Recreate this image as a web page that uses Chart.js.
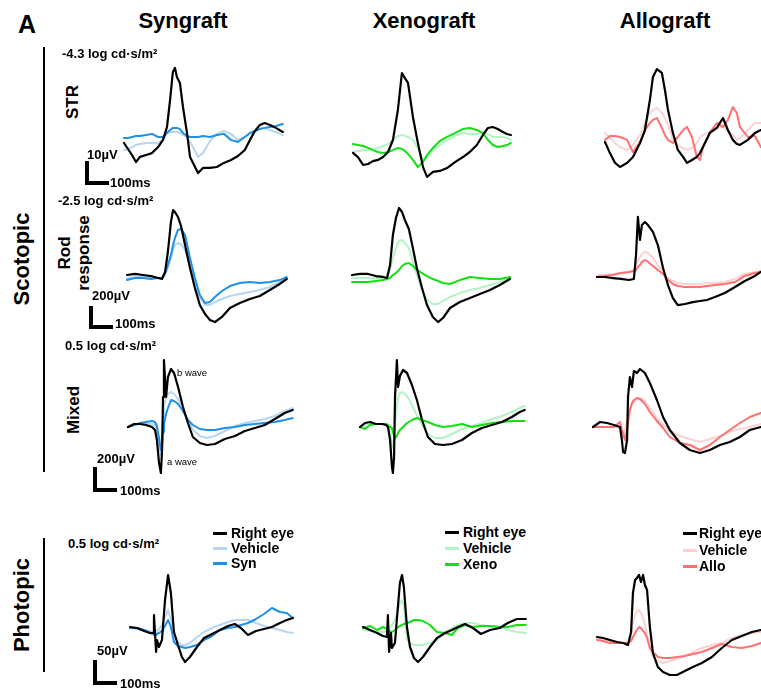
<!DOCTYPE html>
<html>
<head>
<meta charset="utf-8">
<script src="https://cdn.jsdelivr.net/npm/chart.js@4.4.1/dist/chart.umd.min.js"></script>
<style>
    body { margin: 0; background: #fff; width: 761px; height: 689px; position: relative; overflow: hidden;
           font-family: Arial, "Liberation Sans", sans-serif; color: #000; }
    .lbl { position: absolute; white-space: nowrap; line-height: 1; }
    .bar { position: absolute; background: #000; }
    canvas { position: absolute; }
</style>
</head>
<body>
<script>
// ---- data: time (ms from trace start) and amplitude (µV from baseline) ----
// STR, -4.3 log cd·s/m²
const synStrT = [0, 17, 34, 51, 68, 94, 119, 145, 166, 183, 196, 208, 217, 225, 238, 251, 268, 281, 298, 315, 336, 366, 395, 425, 455, 485, 514, 536, 557, 578, 599, 621, 646, 676];
const synStrRight = [0, -2.5, -5, -7.9, -5.8, -5, -4.2, -1.7, 1.3, 6.7, 17.9, 29.6, 31.3, 27.5, 25, 15, 4.2, -5.8, -9.2, -12.5, -10.4, -10.4, -10, -8.3, -7.1, -5.4, -2.9, 1.3, 5, 7.5, 8.3, 7.5, 6.3, 4.6];
const synStrVeh = [-2.9, -2.5, -1.7, -0.8, -0.4, 0, 0, 0, 1.3, 4.2, 4.6, 4.6, 4.6, 4.6, 4.2, 3.3, 2.5, 0.4, -2.5, -5.8, -4.2, 0.8, 3.8, 5, 3.8, 1.3, 2.5, 3.8, 5, 5.8, 6.3, 5.4, 4.6, 3.3];
const synStrTx = [2.1, 2.1, 2.5, 2.9, 2.9, 3.3, 3.8, 2.5, 2.5, 4.2, 5.4, 6.3, 6.3, 6.3, 5.8, 4.2, 2.9, 2.5, 2.5, 2.5, 2.9, 2.5, 3.3, 3.8, 1.3, 0.4, 2.5, 4.2, 5, 5.8, 6.3, 6.7, 7.1, 7.9];

const xenoStrT = [0, 21, 43, 64, 85, 106, 128, 149, 170, 191, 208, 221, 234, 255, 276, 298, 315, 340, 370, 400, 434, 468, 497, 527, 553, 574, 595, 616, 638, 655, 672];
const xenoStrRight = [-0.4, -2.1, -5.4, -5, -3.8, -3.3, -2.1, 0, 5, 17.5, 32.9, 30.8, 28.8, 14.6, 3.8, -6.3, -10.4, -8.3, -7.9, -6.7, -4.2, -2.1, 0, 2.9, 7.1, 10, 10.4, 9.6, 8.3, 7.5, 7.1];
const xenoStrVeh = [0, 0.4, 0.8, 0.8, 1.3, 1.7, 2.5, 3.3, 5, 6.7, 7.1, 6.7, 6.3, 5, 1.7, -3.3, -2.5, 0.8, 2.9, 5, 6.7, 7.9, 7.5, 7.5, 8.3, 7.5, 6.3, 6.3, 6.3, 5.8, 5];
const xenoStrTx = [3.3, 2.9, 2.5, 1.7, 0.8, 0, -0.4, 0, 0.8, 1.7, 1.3, 0.4, -0.8, -3.3, -6.3, -4.2, -1.3, 1.7, 4.6, 6.3, 7.9, 9.6, 10, 9.2, 7.9, 5, 2.9, 2.1, 2.5, 2.9, 3.8];

const alloStrT = [0, 21, 43, 64, 94, 119, 149, 170, 191, 204, 221, 242, 255, 268, 289, 310, 332, 349, 370, 391, 404, 417, 446, 476, 502, 523, 544, 561, 574, 608, 638, 663];
const alloStrRight = [0.4, -4.2, -8.3, -10, -8.3, -5.8, 0, 5.4, 17.9, 27.5, 30.8, 29.2, 22.1, 13.8, 4.2, -2.9, -5.8, -8.3, -7.1, -5.8, -4.2, -1.7, 4.2, 6.3, 10.4, 5.4, 1.3, -0.4, -0.8, 1.3, 4.2, 5.4];
const alloStrVeh = [4.2, 2.1, 0, -1.7, -2.9, -0.8, 3.3, 8.3, 12.5, 13.8, 14.6, 12.5, 10.4, 7.5, 1.3, -0.8, -2.1, -2.9, -2.1, 0, 2.5, 3.3, 4.6, 6.3, 6.7, 5, 3.3, 1.3, 2.1, 5.4, 8.3, 8.3];
const alloStrTx = [1.3, 2.9, 2.9, 2.5, 1.3, -3.8, 0.4, 5.4, 8.3, 9.6, 10.4, 6.3, 3.3, 1.3, 0, 2.5, 5.4, 6.7, 2.5, -5.8, -7.1, -1.7, 4.2, 8.3, 6.7, 9.6, 15, 12.5, 6.7, 2.5, 2.9, -1.7];

// Rod response, -2.5 log cd·s/m²
const synRodT = [0, 34, 68, 102, 132, 149, 162, 174, 187, 196, 204, 217, 230, 247, 268, 289, 310, 332, 353, 374, 404, 438, 480, 523, 565, 608, 650, 680];
const synRodRight = [0, 9, 0, -9, -26, -35, 26, 200, 461, 565, 548, 504, 426, 261, 61, -113, -261, -339, -392, -409, -365, -287, -244, -209, -183, -131, -78, -35];
const synRodVeh = [-26, -17, -17, -26, -26, -26, 0, 61, 148, 218, 261, 278, 270, 218, 87, -70, -200, -261, -261, -235, -209, -183, -165, -148, -131, -104, -61, -26];
const synRodTx = [-44, -26, -26, -35, -26, -26, 17, 87, 174, 261, 322, 392, 400, 348, 148, -26, -174, -244, -235, -192, -139, -96, -70, -61, -70, -61, -44, -17];

const xenoRodT = [0, 34, 68, 102, 132, 149, 162, 174, 187, 200, 213, 225, 242, 259, 276, 298, 319, 344, 366, 387, 417, 459, 502, 544, 587, 629, 672];
const xenoRodRight = [0, 9, 9, -9, -17, -26, 87, 348, 496, 583, 548, 478, 400, 235, 61, -113, -261, -365, -409, -374, -287, -235, -200, -165, -131, -87, -35];
const xenoRodVeh = [-26, -26, -26, -26, -26, -26, 44, 148, 235, 296, 304, 278, 235, 113, 0, -131, -218, -252, -252, -226, -191, -157, -131, -113, -87, -61, -17];
const xenoRodTx = [-61, -61, -61, -52, -44, -35, -26, 0, 17, 44, 78, 96, 104, 78, 44, 17, -9, -35, -52, -70, -78, -44, -17, -26, -35, -35, -17];

const alloRodT = [0, 34, 68, 102, 136, 157, 166, 174, 183, 191, 204, 217, 238, 259, 281, 302, 323, 344, 374, 408, 438, 468, 502, 544, 587, 629, 672, 697];
const alloRodRight = [0, 0, -9, -17, -26, -17, 191, 522, 322, 452, 478, 452, 392, 278, 78, -70, -183, -244, -235, -218, -209, -200, -174, -139, -87, -35, 9, 44];
const alloRodVeh = [17, 17, 26, 35, 44, 61, 96, 139, 174, 200, 218, 209, 165, 104, 44, -9, -35, -52, -61, -61, -61, -52, -52, -44, -17, 26, 44, 52];
const alloRodTx = [0, 9, 17, 35, 44, 52, 61, 87, 104, 131, 148, 131, 96, 61, 26, -26, -61, -78, -87, -87, -87, -78, -70, -61, -44, 9, 35, 44];

// Mixed, 0.5 log cd·s/m²
const synMixT = [0, 26, 51, 77, 102, 115, 123, 132, 140, 145, 149, 153, 162, 170, 183, 196, 213, 234, 255, 276, 306, 336, 370, 412, 455, 497, 540, 582, 625, 667, 701];
const synMixRight = [-16, 8, 8, 0, -16, -40, -120, -304, -384, -200, 224, 520, 224, 384, 448, 416, 304, 144, 16, -96, -144, -160, -152, -112, -88, -48, -24, 0, 48, 96, 120];
const synMixVeh = [-16, 0, 8, 8, 8, 0, -40, -160, -240, -120, 40, 160, 216, 248, 264, 248, 208, 120, 40, -40, -88, -104, -88, -48, -8, 16, 32, 48, 72, 112, 136];
const synMixTx = [-16, 0, 16, 24, 32, 24, -8, -104, -200, -160, -56, 8, 88, 136, 200, 192, 168, 112, 40, 0, -32, -40, -40, -24, -16, 0, 8, 16, 24, 40, 56];

const xenoMixT = [0, 21, 43, 68, 94, 111, 119, 128, 136, 140, 145, 149, 157, 162, 170, 183, 200, 221, 242, 264, 289, 319, 353, 391, 434, 476, 519, 561, 604, 646, 680, 701];
const xenoMixRight = [-16, 16, 24, 8, 8, 0, -16, -120, -336, -384, -256, 224, 520, 304, 392, 440, 416, 320, 200, 40, -96, -152, -160, -152, -120, -64, -24, 0, 24, 64, 104, 120];
const xenoMixVeh = [-16, 0, 8, 8, 8, 8, -8, -56, -160, -184, -120, 0, 160, 224, 256, 264, 232, 160, 80, 0, -72, -104, -104, -72, -32, -8, 16, 48, 72, 104, 136, 152];
const xenoMixTx = [-16, -32, 0, 8, 8, 8, 0, -16, -24, -56, -88, -104, -88, -64, -40, -16, 16, 40, 56, 40, 24, 0, -16, -8, 8, -16, 0, 16, 24, 32, 32, 32];

const alloMixT = [0, 30, 60, 89, 115, 123, 128, 136, 145, 149, 157, 166, 174, 187, 200, 221, 242, 272, 298, 327, 370, 412, 455, 497, 540, 582, 625, 667, 714];
const alloMixRight = [0, 40, 32, 16, 0, -104, -200, -208, -104, 240, 400, 320, 448, 432, 464, 432, 352, 216, 80, -24, -128, -184, -208, -184, -144, -120, -80, -24, 0];
const alloMixVeh = [0, 0, 0, 0, -8, -48, -80, -24, 56, 80, 136, 176, 200, 216, 232, 208, 152, 72, 16, -32, -72, -96, -120, -96, -72, -40, -16, 0, 24];
const alloMixTx = [0, 0, 0, 0, 40, -24, -48, -104, -24, 32, 136, 192, 216, 232, 224, 184, 120, 48, -8, -80, -128, -144, -184, -144, -80, -24, 32, 80, 112];

// Photopic, 0.5 log cd·s/m²
const synPhoT = [0, 30, 60, 85, 98, 102, 111, 115, 123, 136, 149, 162, 174, 187, 204, 221, 234, 255, 285, 315, 349, 383, 417, 446, 472, 502, 536, 570, 604, 638, 667, 693];
const synPhoRight = [0, -2, -8, -12, -12, 24, -50, -26, -40, -26, 54, 104, 68, -10, -36, -60, -70, -60, -40, -22, -14, -6, 2, 6, -2, -16, -8, -4, 0, 8, 14, 18];
const synPhoVeh = [-2, -4, -6, -8, -10, -10, -10, -8, -4, 4, 20, 34, 14, -14, -30, -36, -36, -32, -20, -10, -2, 4, 10, 14, 14, 14, 8, 2, -2, -6, -10, -12];
const synPhoTx = [-2, -2, -6, -12, -14, -16, -16, -14, -12, -8, 2, 14, 0, -30, -38, -40, -42, -40, -36, -26, -18, -6, -2, 0, 4, 8, 16, 26, 38, 30, 28, 18];

const xenoPhoT = [0, 30, 60, 85, 102, 106, 111, 119, 123, 136, 145, 157, 166, 174, 187, 200, 217, 234, 255, 285, 315, 349, 378, 404, 434, 468, 502, 540, 582, 616, 655, 693];
const xenoPhoRight = [0, -6, -12, -18, -20, 24, -50, -12, -42, -32, 20, 88, 104, 80, 0, -40, -62, -70, -60, -40, -22, -12, -6, 0, 6, -2, -14, -6, -2, 8, 16, 16];
const xenoPhoVeh = [-6, -8, -10, -10, -8, -6, -4, 2, 4, 14, 28, 48, 54, 42, -26, -32, -36, -36, -36, -32, -26, -10, -2, 4, 8, 8, 4, 2, 0, -6, -10, -12];
const xenoPhoTx = [-2, 2, -6, 0, -4, -6, -8, -10, -10, -6, -2, 2, 4, 6, 8, 10, 14, 14, 12, 4, -10, -12, -16, -2, 4, 0, 2, 2, 0, 0, 4, 4];

const alloPhoT = [0, 26, 55, 85, 111, 132, 145, 153, 162, 170, 179, 187, 196, 204, 213, 225, 238, 259, 281, 310, 340, 374, 408, 446, 489, 531, 574, 616, 659, 697];
const alloPhoRight = [0, -2, -6, -10, -12, -16, 10, 88, 114, 118, 124, 110, 124, 104, 94, 20, -32, -60, -70, -76, -76, -68, -60, -52, -40, -22, -6, 2, 10, 14];
const alloPhoVeh = [-2, -4, -8, -10, -12, -10, 4, 28, 44, 52, 54, 48, 40, 24, 4, -20, -40, -48, -52, -48, -44, -38, -30, -22, -16, -12, -2, 4, 8, 10];
const alloPhoTx = [-6, -8, -12, -12, -12, -12, -8, 0, 8, 14, 20, 18, 12, 8, -2, -22, -30, -40, -42, -42, -40, -38, -34, -30, -22, -14, -20, -22, -18, -12];

const groups = ["Syngraft", "Xenograft", "Allograft"];
const treatNames = ["Syn", "Xeno", "Allo"];
const seriesNames = ["Right eye", "Vehicle"];
const intensities = ["-4.3 log cd·s/m²", "-2.5 log cd·s/m²", "0.5 log cd·s/m²", "0.5 log cd·s/m²"];
const scaleUv = [10, 200, 200, 50];

// ---- layout ----
const pxPerMs = 0.235;
const rows = [
    { top: 50, h: 140, pxPerUv: 2.4 },
    { top: 195, h: 140, pxPerUv: 0.115 },
    { top: 345, h: 140, pxPerUv: 0.125 },
    { top: 565, h: 120, pxPerUv: 0.5 }
];
const colColors = [
    { veh: "#b7d6f2", tx: "#1e90e8" },
    { veh: "#b4f3c6", tx: "#12e012" },
    { veh: "#ffd2d2", tx: "#ff7070" }
];

const panels = [
    { row: 0, col: 0, x0: 124, y0: 143, t: synStrT, right: synStrRight, veh: synStrVeh, tx: synStrTx },
    { row: 0, col: 1, x0: 353, y0: 152, t: xenoStrT, right: xenoStrRight, veh: xenoStrVeh, tx: xenoStrTx },
    { row: 0, col: 2, x0: 605, y0: 143, t: alloStrT, right: alloStrRight, veh: alloStrVeh, tx: alloStrTx },
    { row: 1, col: 0, x0: 127, y0: 275, t: synRodT, right: synRodRight, veh: synRodVeh, tx: synRodTx },
    { row: 1, col: 1, x0: 352, y0: 275, t: xenoRodT, right: xenoRodRight, veh: xenoRodVeh, tx: xenoRodTx },
    { row: 1, col: 2, x0: 597, y0: 277, t: alloRodT, right: alloRodRight, veh: alloRodVeh, tx: alloRodTx },
    { row: 2, col: 0, x0: 128, y0: 425, t: synMixT, right: synMixRight, veh: synMixVeh, tx: synMixTx },
    { row: 2, col: 1, x0: 360, y0: 425, t: xenoMixT, right: xenoMixRight, veh: xenoMixVeh, tx: xenoMixTx },
    { row: 2, col: 2, x0: 593, y0: 427, t: alloMixT, right: alloMixRight, veh: alloMixVeh, tx: alloMixTx },
    { row: 3, col: 0, x0: 130, y0: 627, t: synPhoT, right: synPhoRight, veh: synPhoVeh, tx: synPhoTx },
    { row: 3, col: 1, x0: 363, y0: 627, t: xenoPhoT, right: xenoPhoRight, veh: xenoPhoVeh, tx: xenoPhoTx },
    { row: 3, col: 2, x0: 597, y0: 637, t: alloPhoT, right: alloPhoRight, veh: alloPhoVeh, tx: alloPhoTx }
];

function addText( txt, x, y, size, opts ) {
    opts = opts || {};
    const el = document.createElement( "div" );
    el.className = "lbl";
    el.textContent = txt;
    el.style.fontSize = size + "px";
    el.style.left = x + "px";
    el.style.top = y + "px";
    el.style.fontWeight = opts.normal ? "normal" : "bold";
    let tf = opts.center ? "translate(-50%,-50%)" : "translateY(-50%)";
    if ( opts.rotate ) tf += " rotate(-90deg)";
    el.style.transform = tf;
    document.body.appendChild( el );
}

function addBox( x, y, w, h, color ) {
    const el = document.createElement( "div" );
    el.className = "bar";
    el.style.left = x + "px";
    el.style.top = y + "px";
    el.style.width = w + "px";
    el.style.height = h + "px";
    if ( color ) el.style.background = color;
    document.body.appendChild( el );
}

function toPoints( t, v ) {
    return t.map( ( x, i ) => ( { x: x, y: v[i] } ) );
}

// Traces
const padL = 8, canvasW = 182;
panels.forEach( p => {
    const r = rows[p.row];
    const c = colColors[p.col];
    const cv = document.createElement( "canvas" );
    cv.width = canvasW;
    cv.height = r.h;
    cv.style.left = ( p.x0 - padL ) + "px";
    cv.style.top = r.top + "px";
    document.body.appendChild( cv );

    const line = ( data, color, w ) => ( {
        data: data, borderColor: color, borderWidth: w, pointRadius: 0,
        fill: false, tension: 0, clip: false, borderJoinStyle: "round", borderCapStyle: "round"
    } );

    new Chart( cv.getContext( "2d" ), {
        type: "line",
        data: {
            datasets: [
                line( toPoints( p.t, p.right ), "#000000", 2.2 ),
                line( toPoints( p.t, p.tx ), c.tx, 2 ),
                line( toPoints( p.t, p.veh ), c.veh, 2 )
            ]
        },
        options: {
            responsive: false,
            animation: false,
            devicePixelRatio: 1,
            events: [],
            layout: { padding: 0 },
            plugins: { legend: { display: false }, tooltip: { enabled: false } },
            scales: {
                x: { type: "linear", display: false, min: -padL / pxPerMs, max: ( canvasW - padL ) / pxPerMs },
                y: { type: "linear", display: false,
                     min: -( r.top + r.h - p.y0 ) / r.pxPerUv, max: ( p.y0 - r.top ) / r.pxPerUv }
            }
        }
    } );
} );

// Titles
addText( "A", 27, 24, 25, { center: true } );
addText( groups[0], 183, 21, 22, { center: true } );
addText( groups[1], 424, 21, 22, { center: true } );
addText( groups[2], 665, 21, 22, { center: true } );

// Side brackets and condition labels
addBox( 43, 47, 2, 425 );
addBox( 43, 538, 2, 134 );
addText( "Scotopic", 22, 259, 22, { center: true, rotate: true } );
addText( "Photopic", 22, 605, 22, { center: true, rotate: true } );
addText( "STR", 72, 102, 17, { center: true, rotate: true } );
addText( "Rod", 64, 253, 17, { center: true, rotate: true } );
addText( "response", 83, 253, 17, { center: true, rotate: true } );
addText( "Mixed", 73, 410, 17, { center: true, rotate: true } );

// Stimulus intensities
addText( intensities[0], 62, 53, 13 );
addText( intensities[1], 58, 200, 13 );
addText( intensities[2], 65, 345, 13 );
addText( intensities[3], 68, 543, 13 );

// Wave annotations
addText( "b wave", 177, 373, 9.5, { normal: true } );
addText( "a wave", 167, 462, 9.5, { normal: true } );

// Scale bars (sized from the row scales)
const bars = [
    { x: 85, bottom: 185, lx: 87, ly: 154, tx: 110, ty: 182 },
    { x: 89, bottom: 329, lx: 92, ly: 295, tx: 115, ty: 323 },
    { x: 93, bottom: 492, lx: 97, ly: 458, tx: 120, ty: 490 },
    { x: 93, bottom: 685, lx: 97, ly: 650, tx: 120, ty: 683 }
];
bars.forEach( ( b, i ) => {
    const hPx = scaleUv[i] * rows[i].pxPerUv;
    const wPx = 100 * pxPerMs;
    addBox( b.x, b.bottom - hPx, 4, hPx );
    addBox( b.x, b.bottom - 4, wPx, 4 );
    addText( scaleUv[i] + "µV", b.lx, b.ly, 13 );
    addText( "100ms", b.tx, b.ty, 13 );
} );

// Legends
const legends = [
    { lx: 213, tx: 231, ys: [533, 548, 563] },
    { lx: 445, tx: 463, ys: [532, 548, 564] },
    { lx: 683, tx: 699, ys: [533, 550, 566] }
];
legends.forEach( ( lg, i ) => {
    const cols = ["#000000", colColors[i].veh, colColors[i].tx];
    const names = [seriesNames[0], seriesNames[1], treatNames[i]];
    names.forEach( ( n, k ) => {
        addBox( lg.lx, lg.ys[k] - 1.5, 14, 3, cols[k] );
        addText( n, lg.tx, lg.ys[k], 14 );
    } );
} );
</script>
</body>
</html>
